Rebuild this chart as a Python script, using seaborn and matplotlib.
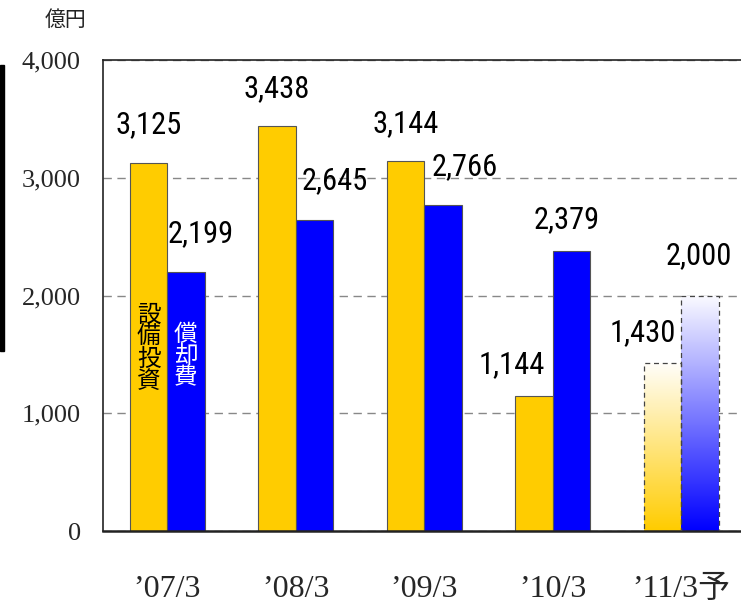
import numpy as np
import pandas as pd
import matplotlib
matplotlib.use('Agg')
import matplotlib.pyplot as plt
import seaborn as sns
from matplotlib import font_manager as fm
from matplotlib.colors import LinearSegmentedColormap
from matplotlib.patches import Rectangle

# データ（億円）
categories = ["’07/3", "’08/3", "’09/3", "’10/3", "’11/3予"]
capex = [3125, 3438, 3144, 1144, 1430]        # 設備投資
depreciation = [2199, 2645, 2766, 2379, 2000]  # 償却費
series = ['設備投資', '償却費']
yticks = [0, 1000, 2000, 3000, 4000]

# ラベル位置の微調整（ピクセル）
capex_dx = [0, 0, 0, -22, -20]
capex_dy = [38, 38, 37, 32, 30]
dep_dx = [15, 20, 22, -5, -1]
dep_dy = [38, 39, 39, 31, 40]

YELLOW = '#FFCC00'
BLUE = '#0000FF'

sns.set_style('white')
names = {f.name for f in fm.fontManager.ttflist}
narrow = 'DejaVu Sans'
for cand in ['Liberation Sans Narrow', 'Roboto Condensed', 'Open Sans Condensed', 'Arial Narrow']:
    if cand in names:
        narrow = cand
        break
CJK = 'Noto Sans CJK JP'
SERIF = ['Liberation Serif', CJK]
plt.rcParams['font.family'] = ['DejaVu Sans', CJK]

df = pd.DataFrame({
    '年度': categories * 2,
    '系列': [series[0]] * len(categories) + [series[1]] * len(categories),
    '金額': capex + depreciation,
})

fig = plt.figure(figsize=(7.41, 6.05), dpi=100)
ax = fig.add_axes([103 / 741, 1 - 531 / 605, 642.5 / 741, 471 / 605])

sns.barplot(data=df, x='年度', y='金額', hue='系列', palette=[YELLOW, BLUE],
            saturation=1, width=0.58, gap=0, edgecolor='#555555', linewidth=0.8,
            legend=False, ax=ax, zorder=2)

ax.set_xlim(-0.5, 4.5)
ax.set_ylim(0, 4000)

# 予想値：グラデーション
n = len(categories)
for p in ax.patches:
    x0 = p.get_x()
    w, h = p.get_width(), p.get_height()
    xc = x0 + w / 2
    if xc < n - 1.5:
        continue
    color = YELLOW if xc < n - 1 else BLUE
    cmap = LinearSegmentedColormap.from_list('g', [color, '#FFFFFF'])
    grad = np.linspace(0, 1, 256).reshape(-1, 1)
    im = ax.imshow(grad, extent=[x0, x0 + w, 0, h], origin='lower', cmap=cmap,
                   aspect='auto', zorder=2, vmin=0, vmax=1.02)
    im.set_clip_path(p)
    p.set_facecolor('none')
    p.set_edgecolor('#444444')
    p.set_linestyle((0, (4, 3)))
    p.set_linewidth(0.9)
    p.set_zorder(3)

ax.set_xlim(-0.5, 4.5)
ax.set_ylim(0, 4000)

# 軸・グリッド
ax.set_yticks(yticks)
ax.set_yticklabels([f'{v:,}' for v in yticks], fontfamily=SERIF, fontsize=19)
ax.set_xticks(range(n))
ax.set_xticklabels(categories, fontfamily=SERIF, fontsize=23)
ax.set_xticks([i + 0.5 for i in range(n - 1)], minor=True)
ax.tick_params(axis='y', direction='in', length=6, width=1, pad=16, color='black')
ax.tick_params(axis='x', which='major', length=0, pad=32)
ax.tick_params(axis='x', which='minor', direction='in', length=9, width=1, color='black')
ax.set_xlabel('')
ax.set_ylabel('')
ax.yaxis.grid(True, linestyle=(0, (6, 4)), color='#888888', linewidth=1)
ax.xaxis.grid(False)
ax.set_axisbelow(True)
for side in ['left', 'top']:
    ax.spines[side].set_color('#222222')
    ax.spines[side].set_linewidth(1.2)
ax.spines['bottom'].set_color('#222222')
ax.spines['bottom'].set_linewidth(1.8)
ax.spines['right'].set_visible(False)

# 数値ラベル
for vals, dxs, dys, off in [(capex, capex_dx, capex_dy, -0.145),
                            (depreciation, dep_dx, dep_dy, 0.145)]:
    for i, v in enumerate(vals):
        ax.annotate(f'{v:,}', xy=(i + off, v),
                    xytext=(dxs[i] * 0.72, dys[i] * 0.72), textcoords='offset points',
                    ha='center', va='center', fontsize=22, family=narrow,
                    fontstretch='condensed', color='black', zorder=5)

# 凡例（棒の中の縦書き）
ax.text(-0.145, 1550, '\n'.join(series[0]), ha='center', va='center', fontsize=17,
        family=CJK, color='black', linespacing=0.95, zorder=5)
ax.text(0.145, 1486, '\n'.join(series[1]), ha='center', va='center', fontsize=17,
        family=CJK, color='white', linespacing=0.95, zorder=5)

# 単位
fig.text(66 / 741, 1 - 20 / 605, '億円', ha='center', va='center', fontsize=15,
         family=CJK, color='#222222')

# 左端の黒い帯
fig.patches.append(Rectangle((0, 1 - 351 / 605), 4 / 741, 286 / 605,
                             transform=fig.transFigure, color='black', zorder=5))

fig.savefig('out.png', dpi=100)
